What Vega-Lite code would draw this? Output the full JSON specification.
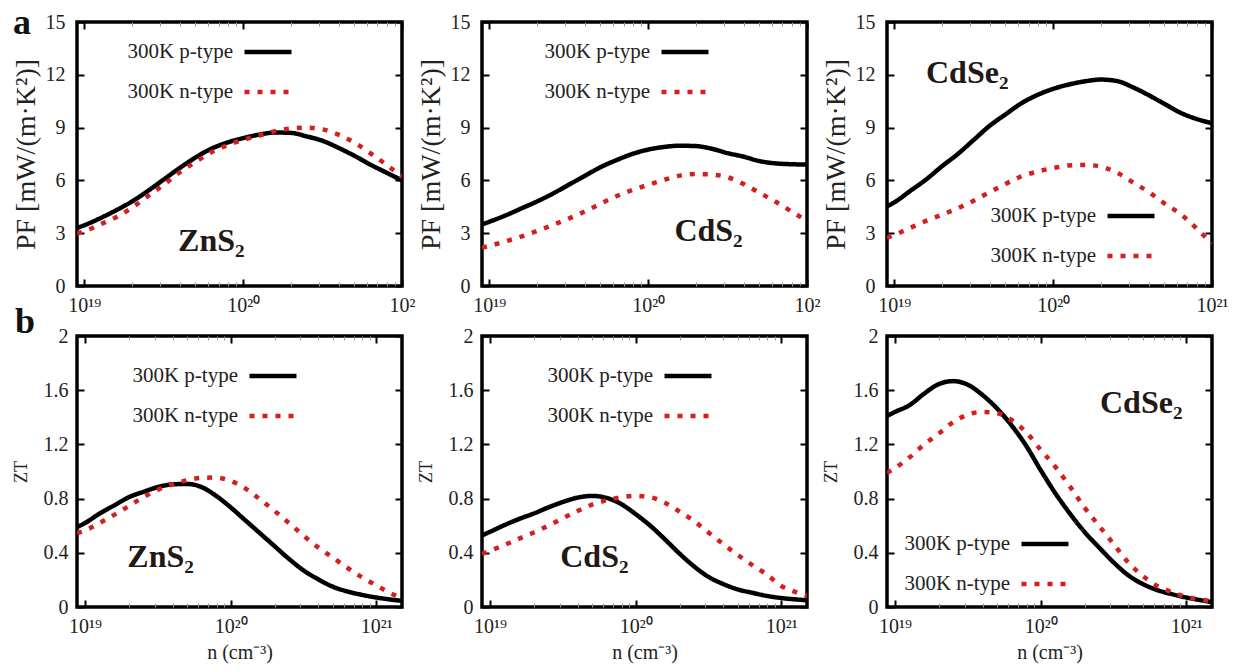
{
  "$schema": "https://vega.github.io/schema/vega-lite/v6.json",
  "background": "white",
  "padding": {"left": 10, "top": 3, "right": 5, "bottom": 2},
  "config": {
    "font": "Liberation Serif",
    "view": {"stroke": "#000", "strokeWidth": 3.5},
    "axis": {"domain": false, "grid": false, "labelFont": "Liberation Serif", "labelFontSize": 20, "labelColor": "#222", "titleFont": "Liberation Serif", "titleColor": "#222", "titleFontWeight": "normal", "tickColor": "#000", "labelFlush": false, "labelOverlap": false},
    "legend": {"orient": "none", "title": null, "labelFont": "Liberation Serif", "labelFontSize": 21, "labelColor": "#222", "symbolType": "stroke", "symbolSize": 2209, "symbolStrokeWidth": 4.5, "labelAlign": "right", "labelOffset": -61, "rowPadding": 4, "padding": 0},
    "title": {"font": "Liberation Serif", "fontSize": 36, "fontWeight": "bold", "color": "#111", "anchor": "start", "frame": "group", "baseline": "alphabetic"}
  },
  "datasets": {
    "curves": [
      {"panel":"A1","type":"300K p-type","n":9e18,"v":3.3},{"panel":"A1","type":"300K p-type","n":1e19,"v":3.45},{"panel":"A1","type":"300K p-type","n":1.259e19,"v":3.85},{"panel":"A1","type":"300K p-type","n":1.585e19,"v":4.3},{"panel":"A1","type":"300K p-type","n":1.995e19,"v":4.8},{"panel":"A1","type":"300K p-type","n":2.512e19,"v":5.4},{"panel":"A1","type":"300K p-type","n":3.162e19,"v":6.05},{"panel":"A1","type":"300K p-type","n":3.981e19,"v":6.7},{"panel":"A1","type":"300K p-type","n":5.012e19,"v":7.3},{"panel":"A1","type":"300K p-type","n":6.31e19,"v":7.8},{"panel":"A1","type":"300K p-type","n":7.943e19,"v":8.15},{"panel":"A1","type":"300K p-type","n":1e20,"v":8.4},{"panel":"A1","type":"300K p-type","n":1.259e20,"v":8.6},{"panel":"A1","type":"300K p-type","n":1.585e20,"v":8.72},{"panel":"A1","type":"300K p-type","n":1.995e20,"v":8.7},{"panel":"A1","type":"300K p-type","n":2.512e20,"v":8.5},{"panel":"A1","type":"300K p-type","n":3.162e20,"v":8.25},{"panel":"A1","type":"300K p-type","n":3.981e20,"v":7.85},{"panel":"A1","type":"300K p-type","n":5.012e20,"v":7.4},{"panel":"A1","type":"300K p-type","n":6.31e20,"v":6.9},{"panel":"A1","type":"300K p-type","n":7.943e20,"v":6.45},{"panel":"A1","type":"300K p-type","n":1e21,"v":6.0},
      {"panel":"A1","type":"300K n-type","n":9e18,"v":3.0},{"panel":"A1","type":"300K n-type","n":1e19,"v":3.1},{"panel":"A1","type":"300K n-type","n":1.259e19,"v":3.5},{"panel":"A1","type":"300K n-type","n":1.585e19,"v":3.9},{"panel":"A1","type":"300K n-type","n":1.995e19,"v":4.45},{"panel":"A1","type":"300K n-type","n":2.512e19,"v":5.1},{"panel":"A1","type":"300K n-type","n":3.162e19,"v":5.75},{"panel":"A1","type":"300K n-type","n":3.981e19,"v":6.45},{"panel":"A1","type":"300K n-type","n":5.012e19,"v":7.05},{"panel":"A1","type":"300K n-type","n":6.31e19,"v":7.6},{"panel":"A1","type":"300K n-type","n":7.943e19,"v":8.0},{"panel":"A1","type":"300K n-type","n":1e20,"v":8.3},{"panel":"A1","type":"300K n-type","n":1.259e20,"v":8.55},{"panel":"A1","type":"300K n-type","n":1.585e20,"v":8.8},{"panel":"A1","type":"300K n-type","n":1.995e20,"v":8.95},{"panel":"A1","type":"300K n-type","n":2.512e20,"v":9.0},{"panel":"A1","type":"300K n-type","n":3.162e20,"v":8.9},{"panel":"A1","type":"300K n-type","n":3.981e20,"v":8.6},{"panel":"A1","type":"300K n-type","n":5.012e20,"v":8.15},{"panel":"A1","type":"300K n-type","n":6.31e20,"v":7.55},{"panel":"A1","type":"300K n-type","n":7.943e20,"v":6.9},{"panel":"A1","type":"300K n-type","n":1e21,"v":6.2},
      {"panel":"A2","type":"300K p-type","n":9e18,"v":3.5},{"panel":"A2","type":"300K p-type","n":1e19,"v":3.65},{"panel":"A2","type":"300K p-type","n":1.259e19,"v":4.0},{"panel":"A2","type":"300K p-type","n":1.585e19,"v":4.4},{"panel":"A2","type":"300K p-type","n":1.995e19,"v":4.8},{"panel":"A2","type":"300K p-type","n":2.512e19,"v":5.25},{"panel":"A2","type":"300K p-type","n":3.162e19,"v":5.75},{"panel":"A2","type":"300K p-type","n":3.981e19,"v":6.25},{"panel":"A2","type":"300K p-type","n":5.012e19,"v":6.75},{"panel":"A2","type":"300K p-type","n":6.31e19,"v":7.15},{"panel":"A2","type":"300K p-type","n":7.943e19,"v":7.5},{"panel":"A2","type":"300K p-type","n":1e20,"v":7.75},{"panel":"A2","type":"300K p-type","n":1.259e20,"v":7.9},{"panel":"A2","type":"300K p-type","n":1.585e20,"v":7.97},{"panel":"A2","type":"300K p-type","n":1.995e20,"v":7.95},{"panel":"A2","type":"300K p-type","n":2.512e20,"v":7.8},{"panel":"A2","type":"300K p-type","n":3.162e20,"v":7.55},{"panel":"A2","type":"300K p-type","n":3.981e20,"v":7.35},{"panel":"A2","type":"300K p-type","n":5.012e20,"v":7.1},{"panel":"A2","type":"300K p-type","n":6.31e20,"v":6.97},{"panel":"A2","type":"300K p-type","n":7.943e20,"v":6.92},{"panel":"A2","type":"300K p-type","n":1e21,"v":6.9},
      {"panel":"A2","type":"300K n-type","n":9e18,"v":2.18},{"panel":"A2","type":"300K n-type","n":1e19,"v":2.28},{"panel":"A2","type":"300K n-type","n":1.259e19,"v":2.53},{"panel":"A2","type":"300K n-type","n":1.585e19,"v":2.8},{"panel":"A2","type":"300K n-type","n":1.995e19,"v":3.12},{"panel":"A2","type":"300K n-type","n":2.512e19,"v":3.47},{"panel":"A2","type":"300K n-type","n":3.162e19,"v":3.83},{"panel":"A2","type":"300K n-type","n":3.981e19,"v":4.23},{"panel":"A2","type":"300K n-type","n":5.012e19,"v":4.67},{"panel":"A2","type":"300K n-type","n":6.31e19,"v":5.1},{"panel":"A2","type":"300K n-type","n":7.943e19,"v":5.45},{"panel":"A2","type":"300K n-type","n":1e20,"v":5.75},{"panel":"A2","type":"300K n-type","n":1.259e20,"v":6.03},{"panel":"A2","type":"300K n-type","n":1.585e20,"v":6.27},{"panel":"A2","type":"300K n-type","n":1.995e20,"v":6.36},{"panel":"A2","type":"300K n-type","n":2.512e20,"v":6.33},{"panel":"A2","type":"300K n-type","n":3.162e20,"v":6.18},{"panel":"A2","type":"300K n-type","n":3.981e20,"v":5.8},{"panel":"A2","type":"300K n-type","n":5.012e20,"v":5.3},{"panel":"A2","type":"300K n-type","n":6.31e20,"v":4.8},{"panel":"A2","type":"300K n-type","n":7.943e20,"v":4.25},{"panel":"A2","type":"300K n-type","n":1e21,"v":3.7},
      {"panel":"A3","type":"300K p-type","n":9e18,"v":4.53},{"panel":"A3","type":"300K p-type","n":1e19,"v":4.75},{"panel":"A3","type":"300K p-type","n":1.259e19,"v":5.4},{"panel":"A3","type":"300K p-type","n":1.585e19,"v":6.05},{"panel":"A3","type":"300K p-type","n":1.995e19,"v":6.8},{"panel":"A3","type":"300K p-type","n":2.512e19,"v":7.5},{"panel":"A3","type":"300K p-type","n":3.162e19,"v":8.3},{"panel":"A3","type":"300K p-type","n":3.981e19,"v":9.1},{"panel":"A3","type":"300K p-type","n":5.012e19,"v":9.75},{"panel":"A3","type":"300K p-type","n":6.31e19,"v":10.38},{"panel":"A3","type":"300K p-type","n":7.943e19,"v":10.85},{"panel":"A3","type":"300K p-type","n":1e20,"v":11.2},{"panel":"A3","type":"300K p-type","n":1.259e20,"v":11.45},{"panel":"A3","type":"300K p-type","n":1.585e20,"v":11.63},{"panel":"A3","type":"300K p-type","n":1.995e20,"v":11.73},{"panel":"A3","type":"300K p-type","n":2.512e20,"v":11.65},{"panel":"A3","type":"300K p-type","n":3.162e20,"v":11.3},{"panel":"A3","type":"300K p-type","n":3.981e20,"v":10.85},{"panel":"A3","type":"300K p-type","n":5.012e20,"v":10.35},{"panel":"A3","type":"300K p-type","n":6.31e20,"v":9.85},{"panel":"A3","type":"300K p-type","n":7.943e20,"v":9.5},{"panel":"A3","type":"300K p-type","n":1e21,"v":9.25},
      {"panel":"A3","type":"300K n-type","n":9e18,"v":2.74},{"panel":"A3","type":"300K n-type","n":1e19,"v":2.9},{"panel":"A3","type":"300K n-type","n":1.259e19,"v":3.3},{"panel":"A3","type":"300K n-type","n":1.585e19,"v":3.7},{"panel":"A3","type":"300K n-type","n":1.995e19,"v":4.05},{"panel":"A3","type":"300K n-type","n":2.512e19,"v":4.42},{"panel":"A3","type":"300K n-type","n":3.162e19,"v":4.85},{"panel":"A3","type":"300K n-type","n":3.981e19,"v":5.33},{"panel":"A3","type":"300K n-type","n":5.012e19,"v":5.8},{"panel":"A3","type":"300K n-type","n":6.31e19,"v":6.23},{"panel":"A3","type":"300K n-type","n":7.943e19,"v":6.5},{"panel":"A3","type":"300K n-type","n":1e20,"v":6.7},{"panel":"A3","type":"300K n-type","n":1.259e20,"v":6.85},{"panel":"A3","type":"300K n-type","n":1.585e20,"v":6.88},{"panel":"A3","type":"300K n-type","n":1.995e20,"v":6.78},{"panel":"A3","type":"300K n-type","n":2.512e20,"v":6.45},{"panel":"A3","type":"300K n-type","n":3.162e20,"v":5.9},{"panel":"A3","type":"300K n-type","n":3.981e20,"v":5.35},{"panel":"A3","type":"300K n-type","n":5.012e20,"v":4.7},{"panel":"A3","type":"300K n-type","n":6.31e20,"v":4.1},{"panel":"A3","type":"300K n-type","n":7.943e20,"v":3.3},{"panel":"A3","type":"300K n-type","n":1e21,"v":2.4},
      {"panel":"B1","type":"300K p-type","n":8.8e18,"v":0.59},{"panel":"B1","type":"300K p-type","n":1e19,"v":0.62},{"panel":"B1","type":"300K p-type","n":1.259e19,"v":0.69},{"panel":"B1","type":"300K p-type","n":1.585e19,"v":0.75},{"panel":"B1","type":"300K p-type","n":1.995e19,"v":0.81},{"panel":"B1","type":"300K p-type","n":2.512e19,"v":0.85},{"panel":"B1","type":"300K p-type","n":3.162e19,"v":0.885},{"panel":"B1","type":"300K p-type","n":3.981e19,"v":0.905},{"panel":"B1","type":"300K p-type","n":5.012e19,"v":0.908},{"panel":"B1","type":"300K p-type","n":6.31e19,"v":0.885},{"panel":"B1","type":"300K p-type","n":7.943e19,"v":0.82},{"panel":"B1","type":"300K p-type","n":1e20,"v":0.735},{"panel":"B1","type":"300K p-type","n":1.259e20,"v":0.64},{"panel":"B1","type":"300K p-type","n":1.585e20,"v":0.545},{"panel":"B1","type":"300K p-type","n":1.995e20,"v":0.45},{"panel":"B1","type":"300K p-type","n":2.512e20,"v":0.355},{"panel":"B1","type":"300K p-type","n":3.162e20,"v":0.27},{"panel":"B1","type":"300K p-type","n":3.981e20,"v":0.205},{"panel":"B1","type":"300K p-type","n":5.012e20,"v":0.15},{"panel":"B1","type":"300K p-type","n":6.31e20,"v":0.115},{"panel":"B1","type":"300K p-type","n":7.943e20,"v":0.09},{"panel":"B1","type":"300K p-type","n":1e21,"v":0.07},{"panel":"B1","type":"300K p-type","n":1.259e21,"v":0.055},{"panel":"B1","type":"300K p-type","n":1.5e21,"v":0.045},
      {"panel":"B1","type":"300K n-type","n":8.8e18,"v":0.545},{"panel":"B1","type":"300K n-type","n":1e19,"v":0.565},{"panel":"B1","type":"300K n-type","n":1.259e19,"v":0.62},{"panel":"B1","type":"300K n-type","n":1.585e19,"v":0.68},{"panel":"B1","type":"300K n-type","n":1.995e19,"v":0.745},{"panel":"B1","type":"300K n-type","n":2.512e19,"v":0.81},{"panel":"B1","type":"300K n-type","n":3.162e19,"v":0.865},{"panel":"B1","type":"300K n-type","n":3.981e19,"v":0.905},{"panel":"B1","type":"300K n-type","n":5.012e19,"v":0.935},{"panel":"B1","type":"300K n-type","n":6.31e19,"v":0.953},{"panel":"B1","type":"300K n-type","n":7.943e19,"v":0.955},{"panel":"B1","type":"300K n-type","n":1e20,"v":0.93},{"panel":"B1","type":"300K n-type","n":1.259e20,"v":0.875},{"panel":"B1","type":"300K n-type","n":1.585e20,"v":0.795},{"panel":"B1","type":"300K n-type","n":1.995e20,"v":0.71},{"panel":"B1","type":"300K n-type","n":2.512e20,"v":0.62},{"panel":"B1","type":"300K n-type","n":3.162e20,"v":0.527},{"panel":"B1","type":"300K n-type","n":3.981e20,"v":0.44},{"panel":"B1","type":"300K n-type","n":5.012e20,"v":0.365},{"panel":"B1","type":"300K n-type","n":6.31e20,"v":0.29},{"panel":"B1","type":"300K n-type","n":7.943e20,"v":0.22},{"panel":"B1","type":"300K n-type","n":1e21,"v":0.16},{"panel":"B1","type":"300K n-type","n":1.259e21,"v":0.1},{"panel":"B1","type":"300K n-type","n":1.5e21,"v":0.065},
      {"panel":"B2","type":"300K p-type","n":8.8e18,"v":0.528},{"panel":"B2","type":"300K p-type","n":1e19,"v":0.555},{"panel":"B2","type":"300K p-type","n":1.259e19,"v":0.605},{"panel":"B2","type":"300K p-type","n":1.585e19,"v":0.65},{"panel":"B2","type":"300K p-type","n":1.995e19,"v":0.69},{"panel":"B2","type":"300K p-type","n":2.512e19,"v":0.735},{"panel":"B2","type":"300K p-type","n":3.162e19,"v":0.775},{"panel":"B2","type":"300K p-type","n":3.981e19,"v":0.807},{"panel":"B2","type":"300K p-type","n":5.012e19,"v":0.82},{"panel":"B2","type":"300K p-type","n":6.31e19,"v":0.805},{"panel":"B2","type":"300K p-type","n":7.943e19,"v":0.76},{"panel":"B2","type":"300K p-type","n":1e20,"v":0.685},{"panel":"B2","type":"300K p-type","n":1.259e20,"v":0.6},{"panel":"B2","type":"300K p-type","n":1.585e20,"v":0.5},{"panel":"B2","type":"300K p-type","n":1.995e20,"v":0.395},{"panel":"B2","type":"300K p-type","n":2.512e20,"v":0.3},{"panel":"B2","type":"300K p-type","n":3.162e20,"v":0.222},{"panel":"B2","type":"300K p-type","n":3.981e20,"v":0.17},{"panel":"B2","type":"300K p-type","n":5.012e20,"v":0.13},{"panel":"B2","type":"300K p-type","n":6.31e20,"v":0.105},{"panel":"B2","type":"300K p-type","n":7.943e20,"v":0.082},{"panel":"B2","type":"300K p-type","n":1e21,"v":0.066},{"panel":"B2","type":"300K p-type","n":1.259e21,"v":0.056},{"panel":"B2","type":"300K p-type","n":1.5e21,"v":0.049},
      {"panel":"B2","type":"300K n-type","n":8.8e18,"v":0.392},{"panel":"B2","type":"300K n-type","n":1e19,"v":0.415},{"panel":"B2","type":"300K n-type","n":1.259e19,"v":0.458},{"panel":"B2","type":"300K n-type","n":1.585e19,"v":0.505},{"panel":"B2","type":"300K n-type","n":1.995e19,"v":0.55},{"panel":"B2","type":"300K n-type","n":2.512e19,"v":0.6},{"panel":"B2","type":"300K n-type","n":3.162e19,"v":0.655},{"panel":"B2","type":"300K n-type","n":3.981e19,"v":0.708},{"panel":"B2","type":"300K n-type","n":5.012e19,"v":0.755},{"panel":"B2","type":"300K n-type","n":6.31e19,"v":0.788},{"panel":"B2","type":"300K n-type","n":7.943e19,"v":0.81},{"panel":"B2","type":"300K n-type","n":1e20,"v":0.82},{"panel":"B2","type":"300K n-type","n":1.259e20,"v":0.81},{"panel":"B2","type":"300K n-type","n":1.585e20,"v":0.77},{"panel":"B2","type":"300K n-type","n":1.995e20,"v":0.705},{"panel":"B2","type":"300K n-type","n":2.512e20,"v":0.635},{"panel":"B2","type":"300K n-type","n":3.162e20,"v":0.55},{"panel":"B2","type":"300K n-type","n":3.981e20,"v":0.465},{"panel":"B2","type":"300K n-type","n":5.012e20,"v":0.385},{"panel":"B2","type":"300K n-type","n":6.31e20,"v":0.31},{"panel":"B2","type":"300K n-type","n":7.943e20,"v":0.24},{"panel":"B2","type":"300K n-type","n":1e21,"v":0.155},{"panel":"B2","type":"300K n-type","n":1.259e21,"v":0.11},{"panel":"B2","type":"300K n-type","n":1.5e21,"v":0.081},
      {"panel":"B3","type":"300K p-type","n":8.8e18,"v":1.41},{"panel":"B3","type":"300K p-type","n":1e19,"v":1.44},{"panel":"B3","type":"300K p-type","n":1.259e19,"v":1.49},{"panel":"B3","type":"300K p-type","n":1.585e19,"v":1.575},{"panel":"B3","type":"300K p-type","n":1.995e19,"v":1.645},{"panel":"B3","type":"300K p-type","n":2.512e19,"v":1.667},{"panel":"B3","type":"300K p-type","n":3.162e19,"v":1.64},{"panel":"B3","type":"300K p-type","n":3.981e19,"v":1.565},{"panel":"B3","type":"300K p-type","n":5.012e19,"v":1.465},{"panel":"B3","type":"300K p-type","n":6.31e19,"v":1.34},{"panel":"B3","type":"300K p-type","n":7.943e19,"v":1.19},{"panel":"B3","type":"300K p-type","n":1e20,"v":1.01},{"panel":"B3","type":"300K p-type","n":1.259e20,"v":0.84},{"panel":"B3","type":"300K p-type","n":1.585e20,"v":0.69},{"panel":"B3","type":"300K p-type","n":1.995e20,"v":0.555},{"panel":"B3","type":"300K p-type","n":2.512e20,"v":0.44},{"panel":"B3","type":"300K p-type","n":3.162e20,"v":0.33},{"panel":"B3","type":"300K p-type","n":3.981e20,"v":0.235},{"panel":"B3","type":"300K p-type","n":5.012e20,"v":0.17},{"panel":"B3","type":"300K p-type","n":6.31e20,"v":0.125},{"panel":"B3","type":"300K p-type","n":7.943e20,"v":0.095},{"panel":"B3","type":"300K p-type","n":1e21,"v":0.07},{"panel":"B3","type":"300K p-type","n":1.259e21,"v":0.05},{"panel":"B3","type":"300K p-type","n":1.5e21,"v":0.036},
      {"panel":"B3","type":"300K n-type","n":8.8e18,"v":0.99},{"panel":"B3","type":"300K n-type","n":1e19,"v":1.025},{"panel":"B3","type":"300K n-type","n":1.259e19,"v":1.105},{"panel":"B3","type":"300K n-type","n":1.585e19,"v":1.2},{"panel":"B3","type":"300K n-type","n":1.995e19,"v":1.28},{"panel":"B3","type":"300K n-type","n":2.512e19,"v":1.365},{"panel":"B3","type":"300K n-type","n":3.162e19,"v":1.42},{"panel":"B3","type":"300K n-type","n":3.981e19,"v":1.44},{"panel":"B3","type":"300K n-type","n":5.012e19,"v":1.43},{"panel":"B3","type":"300K n-type","n":6.31e19,"v":1.38},{"panel":"B3","type":"300K n-type","n":7.943e19,"v":1.29},{"panel":"B3","type":"300K n-type","n":1e20,"v":1.16},{"panel":"B3","type":"300K n-type","n":1.259e20,"v":1.035},{"panel":"B3","type":"300K n-type","n":1.585e20,"v":0.89},{"panel":"B3","type":"300K n-type","n":1.995e20,"v":0.735},{"panel":"B3","type":"300K n-type","n":2.512e20,"v":0.6},{"panel":"B3","type":"300K n-type","n":3.162e20,"v":0.465},{"panel":"B3","type":"300K n-type","n":3.981e20,"v":0.33},{"panel":"B3","type":"300K n-type","n":5.012e20,"v":0.23},{"panel":"B3","type":"300K n-type","n":6.31e20,"v":0.155},{"panel":"B3","type":"300K n-type","n":7.943e20,"v":0.11},{"panel":"B3","type":"300K n-type","n":1e21,"v":0.075},{"panel":"B3","type":"300K n-type","n":1.259e21,"v":0.055},{"panel":"B3","type":"300K n-type","n":1.5e21,"v":0.042}
    ]
  },
  "columns": 3,
  "spacing": {"row": 50, "column": 80},
  "bounds": "flush",
  "resolve": {"scale": {"color": "independent", "strokeDash": "independent"}, "legend": {"color": "independent", "strokeDash": "independent"}},
  "concat": [
    {
      "width": 325, "height": 264,
      "title": {"text": "a", "dx": -64, "offset": -30},
      "layer": [
        {
          "data": {"name": "curves"},
          "transform": [{"filter": "datum.panel == 'A1'"}],
          "mark": {"type": "line", "clip": true, "strokeWidth": 4.5, "strokeCap": "butt", "interpolate": "monotone"},
          "encoding": {
            "x": {"field": "n", "type": "quantitative", "scale": {"type": "log", "domain": [9e18, 1e21], "nice": false},
              "axis": {"orient": "bottom", "title": null, "values": [1e19,2e19,3e19,4e19,5e19,6e19,7e19,8e19,9e19,1e20,2e20,3e20,4e20,5e20,6e20,7e20,8e20,9e20,1e21],
                "tickSize": {"condition": {"test": "datum.value == 1e19 || datum.value == 1e20 || datum.value == 1e21", "value": -7}, "value": -4},
                "tickWidth": {"condition": {"test": "datum.value == 1e19 || datum.value == 1e20 || datum.value == 1e21", "value": 2}, "value": 1},
                "tickColor": {"condition": {"test": "datum.value == 1e19 || datum.value == 1e20 || datum.value == 1e21", "value": "#000"}, "value": "#999"},
                "labelPadding": {"condition": {"test": "datum.value == 1e19 || datum.value == 1e20 || datum.value == 1e21", "value": 16}, "value": 0},
                "labelExpr": "datum.value == 1e19 ? '10¹⁹' : datum.value == 1e20 ? '10²⁰' : datum.value == 1e21 ? '10²' : ''"}},
            "y": {"field": "v", "type": "quantitative", "scale": {"domain": [0, 15], "nice": false, "zero": false},
              "axis": {"orient": "left", "title": "PF [mW/(m·K²)]", "titleFontSize": 28, "titlePadding": 5, "values": [0,3,6,9,12,15], "format": "d", "tickSize": -7, "tickWidth": 2, "labelPadding": 19}},
            "color": {"field": "type", "type": "nominal", "scale": {"domain": ["300K p-type", "300K n-type"], "range": ["#000000", "#d41f1f"]}, "legend": {"legendX": 165, "legendY": 4}},
            "strokeDash": {"field": "type", "type": "nominal", "scale": {"domain": ["300K p-type", "300K n-type"], "range": [[1, 0], [5, 8]]}, "legend": {"legendX": 165, "legendY": 4}}
          }
        },
        {
          "data": {"values": [{"n": 6.31e19, "v": 2.57, "label": "ZnS₂"}]},
          "mark": {"type": "text", "font": "Liberation Serif", "fontWeight": "bold", "fontSize": 32, "color": "#231815"},
          "encoding": {
            "x": {"field": "n", "type": "quantitative", "axis": {"orient": "top", "title": null, "labels": false, "values": [1e19,2e19,3e19,4e19,5e19,6e19,7e19,8e19,9e19,1e20,2e20,3e20,4e20,5e20,6e20,7e20,8e20,9e20,1e21],
                "tickSize": {"condition": {"test": "datum.value == 1e19 || datum.value == 1e20 || datum.value == 1e21", "value": -7}, "value": -4},
                "tickWidth": {"condition": {"test": "datum.value == 1e19 || datum.value == 1e20 || datum.value == 1e21", "value": 2}, "value": 1},
                "tickColor": {"condition": {"test": "datum.value == 1e19 || datum.value == 1e20 || datum.value == 1e21", "value": "#000"}, "value": "#999"}}},
            "y": {"field": "v", "type": "quantitative", "axis": {"orient": "right", "title": null, "labels": false, "values": [0,3,6,9,12,15], "tickSize": -7, "tickWidth": 2}},
            "text": {"field": "label"}
          }
        }
      ],
      "resolve": {"axis": {"x": "independent", "y": "independent"}}
    },
    {
      "width": 325, "height": 264,
      "layer": [
        {
          "data": {"name": "curves"},
          "transform": [{"filter": "datum.panel == 'A2'"}],
          "mark": {"type": "line", "clip": true, "strokeWidth": 4.5, "strokeCap": "butt", "interpolate": "monotone"},
          "encoding": {
            "x": {"field": "n", "type": "quantitative", "scale": {"type": "log", "domain": [9e18, 1e21], "nice": false},
              "axis": {"orient": "bottom", "title": null, "values": [1e19,2e19,3e19,4e19,5e19,6e19,7e19,8e19,9e19,1e20,2e20,3e20,4e20,5e20,6e20,7e20,8e20,9e20,1e21],
                "tickSize": {"condition": {"test": "datum.value == 1e19 || datum.value == 1e20 || datum.value == 1e21", "value": -7}, "value": -4},
                "tickWidth": {"condition": {"test": "datum.value == 1e19 || datum.value == 1e20 || datum.value == 1e21", "value": 2}, "value": 1},
                "tickColor": {"condition": {"test": "datum.value == 1e19 || datum.value == 1e20 || datum.value == 1e21", "value": "#000"}, "value": "#999"},
                "labelPadding": {"condition": {"test": "datum.value == 1e19 || datum.value == 1e20 || datum.value == 1e21", "value": 16}, "value": 0},
                "labelExpr": "datum.value == 1e19 ? '10¹⁹' : datum.value == 1e20 ? '10²⁰' : datum.value == 1e21 ? '10²' : ''"}},
            "y": {"field": "v", "type": "quantitative", "scale": {"domain": [0, 15], "nice": false, "zero": false},
              "axis": {"orient": "left", "title": "PF [mW/(m·K²)]", "titleFontSize": 28, "titlePadding": 5, "values": [0,3,6,9,12,15], "format": "d", "tickSize": -7, "tickWidth": 2, "labelPadding": 19}},
            "color": {"field": "type", "type": "nominal", "scale": {"domain": ["300K p-type", "300K n-type"], "range": ["#000000", "#d41f1f"]}, "legend": {"legendX": 177, "legendY": 4}},
            "strokeDash": {"field": "type", "type": "nominal", "scale": {"domain": ["300K p-type", "300K n-type"], "range": [[1, 0], [5, 8]]}, "legend": {"legendX": 177, "legendY": 4}}
          }
        },
        {
          "data": {"values": [{"n": 2.4e20, "v": 3.14, "label": "CdS₂"}]},
          "mark": {"type": "text", "font": "Liberation Serif", "fontWeight": "bold", "fontSize": 32, "color": "#231815"},
          "encoding": {
            "x": {"field": "n", "type": "quantitative", "axis": {"orient": "top", "title": null, "labels": false, "values": [1e19,2e19,3e19,4e19,5e19,6e19,7e19,8e19,9e19,1e20,2e20,3e20,4e20,5e20,6e20,7e20,8e20,9e20,1e21],
                "tickSize": {"condition": {"test": "datum.value == 1e19 || datum.value == 1e20 || datum.value == 1e21", "value": -7}, "value": -4},
                "tickWidth": {"condition": {"test": "datum.value == 1e19 || datum.value == 1e20 || datum.value == 1e21", "value": 2}, "value": 1},
                "tickColor": {"condition": {"test": "datum.value == 1e19 || datum.value == 1e20 || datum.value == 1e21", "value": "#000"}, "value": "#999"}}},
            "y": {"field": "v", "type": "quantitative", "axis": {"orient": "right", "title": null, "labels": false, "values": [0,3,6,9,12,15], "tickSize": -7, "tickWidth": 2}},
            "text": {"field": "label"}
          }
        }
      ],
      "resolve": {"axis": {"x": "independent", "y": "independent"}}
    },
    {
      "width": 325, "height": 264,
      "layer": [
        {
          "data": {"name": "curves"},
          "transform": [{"filter": "datum.panel == 'A3'"}],
          "mark": {"type": "line", "clip": true, "strokeWidth": 4.5, "strokeCap": "butt", "interpolate": "monotone"},
          "encoding": {
            "x": {"field": "n", "type": "quantitative", "scale": {"type": "log", "domain": [9e18, 1e21], "nice": false},
              "axis": {"orient": "bottom", "title": null, "values": [1e19,2e19,3e19,4e19,5e19,6e19,7e19,8e19,9e19,1e20,2e20,3e20,4e20,5e20,6e20,7e20,8e20,9e20,1e21],
                "tickSize": {"condition": {"test": "datum.value == 1e19 || datum.value == 1e20 || datum.value == 1e21", "value": -7}, "value": -4},
                "tickWidth": {"condition": {"test": "datum.value == 1e19 || datum.value == 1e20 || datum.value == 1e21", "value": 2}, "value": 1},
                "tickColor": {"condition": {"test": "datum.value == 1e19 || datum.value == 1e20 || datum.value == 1e21", "value": "#000"}, "value": "#999"},
                "labelPadding": {"condition": {"test": "datum.value == 1e19 || datum.value == 1e20 || datum.value == 1e21", "value": 16}, "value": 0},
                "labelExpr": "datum.value == 1e19 ? '10¹⁹' : datum.value == 1e20 ? '10²⁰' : datum.value == 1e21 ? '10²¹' : ''"}},
            "y": {"field": "v", "type": "quantitative", "scale": {"domain": [0, 15], "nice": false, "zero": false},
              "axis": {"orient": "left", "title": "PF [mW/(m·K²)]", "titleFontSize": 28, "titlePadding": 5, "values": [0,3,6,9,12,15], "format": "d", "tickSize": -7, "tickWidth": 2, "labelPadding": 19}},
            "color": {"field": "type", "type": "nominal", "scale": {"domain": ["300K p-type", "300K n-type"], "range": ["#000000", "#d41f1f"]}, "legend": {"legendX": 218, "legendY": 168}},
            "strokeDash": {"field": "type", "type": "nominal", "scale": {"domain": ["300K p-type", "300K n-type"], "range": [[1, 0], [5, 8]]}, "legend": {"legendX": 218, "legendY": 168}}
          }
        },
        {
          "data": {"values": [{"n": 2.88e19, "v": 12.1, "label": "CdSe₂"}]},
          "mark": {"type": "text", "font": "Liberation Serif", "fontWeight": "bold", "fontSize": 32, "color": "#231815"},
          "encoding": {
            "x": {"field": "n", "type": "quantitative", "axis": {"orient": "top", "title": null, "labels": false, "values": [1e19,2e19,3e19,4e19,5e19,6e19,7e19,8e19,9e19,1e20,2e20,3e20,4e20,5e20,6e20,7e20,8e20,9e20,1e21],
                "tickSize": {"condition": {"test": "datum.value == 1e19 || datum.value == 1e20 || datum.value == 1e21", "value": -7}, "value": -4},
                "tickWidth": {"condition": {"test": "datum.value == 1e19 || datum.value == 1e20 || datum.value == 1e21", "value": 2}, "value": 1},
                "tickColor": {"condition": {"test": "datum.value == 1e19 || datum.value == 1e20 || datum.value == 1e21", "value": "#000"}, "value": "#999"}}},
            "y": {"field": "v", "type": "quantitative", "axis": {"orient": "right", "title": null, "labels": false, "values": [0,3,6,9,12,15], "tickSize": -7, "tickWidth": 2}},
            "text": {"field": "label"}
          }
        }
      ],
      "resolve": {"axis": {"x": "independent", "y": "independent"}}
    },
    {
      "width": 325, "height": 271,
      "title": {"text": "b", "dx": -62, "offset": -15},
      "layer": [
        {
          "data": {"name": "curves"},
          "transform": [{"filter": "datum.panel == 'B1'"}],
          "mark": {"type": "line", "clip": true, "strokeWidth": 4.5, "strokeCap": "butt", "interpolate": "monotone"},
          "encoding": {
            "x": {"field": "n", "type": "quantitative", "scale": {"type": "log", "domain": [8.8e18, 1.5e21], "nice": false},
              "axis": {"orient": "bottom", "title": "n (cm⁻³)", "titleFontSize": 20, "titlePadding": 6, "values": [1e19,2e19,3e19,4e19,5e19,6e19,7e19,8e19,9e19,1e20,2e20,3e20,4e20,5e20,6e20,7e20,8e20,9e20,1e21],
                "tickSize": {"condition": {"test": "datum.value == 1e19 || datum.value == 1e20 || datum.value == 1e21", "value": -7}, "value": -4},
                "tickWidth": {"condition": {"test": "datum.value == 1e19 || datum.value == 1e20 || datum.value == 1e21", "value": 2}, "value": 1},
                "tickColor": {"condition": {"test": "datum.value == 1e19 || datum.value == 1e20 || datum.value == 1e21", "value": "#000"}, "value": "#999"},
                "labelPadding": {"condition": {"test": "datum.value == 1e19 || datum.value == 1e20 || datum.value == 1e21", "value": 16}, "value": 0},
                "labelExpr": "datum.value == 1e19 ? '10¹⁹' : datum.value == 1e20 ? '10²⁰' : datum.value == 1e21 ? '10²¹' : ''"}},
            "y": {"field": "v", "type": "quantitative", "scale": {"domain": [0, 2], "nice": false, "zero": false},
              "axis": {"orient": "left", "title": "ZT", "titleFontSize": 18, "titlePadding": 13, "values": [0,0.4,0.8,1.2,1.6,2], "format": "~g", "tickSize": -7, "tickWidth": 2, "labelPadding": 16}},
            "color": {"field": "type", "type": "nominal", "scale": {"domain": ["300K p-type", "300K n-type"], "range": ["#000000", "#d41f1f"]}, "legend": {"legendX": 170, "legendY": 14}},
            "strokeDash": {"field": "type", "type": "nominal", "scale": {"domain": ["300K p-type", "300K n-type"], "range": [[1, 0], [5, 8]]}, "legend": {"legendX": 170, "legendY": 14}}
          }
        },
        {
          "data": {"values": [{"n": 3.3e19, "v": 0.37, "label": "ZnS₂"}]},
          "mark": {"type": "text", "font": "Liberation Serif", "fontWeight": "bold", "fontSize": 32, "color": "#231815"},
          "encoding": {
            "x": {"field": "n", "type": "quantitative", "axis": {"orient": "top", "title": null, "labels": false, "values": [1e19,2e19,3e19,4e19,5e19,6e19,7e19,8e19,9e19,1e20,2e20,3e20,4e20,5e20,6e20,7e20,8e20,9e20,1e21],
                "tickSize": {"condition": {"test": "datum.value == 1e19 || datum.value == 1e20 || datum.value == 1e21", "value": -7}, "value": -4},
                "tickWidth": {"condition": {"test": "datum.value == 1e19 || datum.value == 1e20 || datum.value == 1e21", "value": 2}, "value": 1},
                "tickColor": {"condition": {"test": "datum.value == 1e19 || datum.value == 1e20 || datum.value == 1e21", "value": "#000"}, "value": "#999"}}},
            "y": {"field": "v", "type": "quantitative", "axis": {"orient": "right", "title": null, "labels": false, "values": [0,0.4,0.8,1.2,1.6,2], "tickSize": -7, "tickWidth": 2}},
            "text": {"field": "label"}
          }
        }
      ],
      "resolve": {"axis": {"x": "independent", "y": "independent"}}
    },
    {
      "width": 325, "height": 271,
      "layer": [
        {
          "data": {"name": "curves"},
          "transform": [{"filter": "datum.panel == 'B2'"}],
          "mark": {"type": "line", "clip": true, "strokeWidth": 4.5, "strokeCap": "butt", "interpolate": "monotone"},
          "encoding": {
            "x": {"field": "n", "type": "quantitative", "scale": {"type": "log", "domain": [8.8e18, 1.5e21], "nice": false},
              "axis": {"orient": "bottom", "title": "n (cm⁻³)", "titleFontSize": 20, "titlePadding": 6, "values": [1e19,2e19,3e19,4e19,5e19,6e19,7e19,8e19,9e19,1e20,2e20,3e20,4e20,5e20,6e20,7e20,8e20,9e20,1e21],
                "tickSize": {"condition": {"test": "datum.value == 1e19 || datum.value == 1e20 || datum.value == 1e21", "value": -7}, "value": -4},
                "tickWidth": {"condition": {"test": "datum.value == 1e19 || datum.value == 1e20 || datum.value == 1e21", "value": 2}, "value": 1},
                "tickColor": {"condition": {"test": "datum.value == 1e19 || datum.value == 1e20 || datum.value == 1e21", "value": "#000"}, "value": "#999"},
                "labelPadding": {"condition": {"test": "datum.value == 1e19 || datum.value == 1e20 || datum.value == 1e21", "value": 16}, "value": 0},
                "labelExpr": "datum.value == 1e19 ? '10¹⁹' : datum.value == 1e20 ? '10²⁰' : datum.value == 1e21 ? '10²¹' : ''"}},
            "y": {"field": "v", "type": "quantitative", "scale": {"domain": [0, 2], "nice": false, "zero": false},
              "axis": {"orient": "left", "title": "ZT", "titleFontSize": 18, "titlePadding": 13, "values": [0,0.4,0.8,1.2,1.6,2], "format": "~g", "tickSize": -7, "tickWidth": 2, "labelPadding": 16}},
            "color": {"field": "type", "type": "nominal", "scale": {"domain": ["300K p-type", "300K n-type"], "range": ["#000000", "#d41f1f"]}, "legend": {"legendX": 180, "legendY": 14}},
            "strokeDash": {"field": "type", "type": "nominal", "scale": {"domain": ["300K p-type", "300K n-type"], "range": [[1, 0], [5, 8]]}, "legend": {"legendX": 180, "legendY": 14}}
          }
        },
        {
          "data": {"values": [{"n": 5.2e19, "v": 0.37, "label": "CdS₂"}]},
          "mark": {"type": "text", "font": "Liberation Serif", "fontWeight": "bold", "fontSize": 32, "color": "#231815"},
          "encoding": {
            "x": {"field": "n", "type": "quantitative", "axis": {"orient": "top", "title": null, "labels": false, "values": [1e19,2e19,3e19,4e19,5e19,6e19,7e19,8e19,9e19,1e20,2e20,3e20,4e20,5e20,6e20,7e20,8e20,9e20,1e21],
                "tickSize": {"condition": {"test": "datum.value == 1e19 || datum.value == 1e20 || datum.value == 1e21", "value": -7}, "value": -4},
                "tickWidth": {"condition": {"test": "datum.value == 1e19 || datum.value == 1e20 || datum.value == 1e21", "value": 2}, "value": 1},
                "tickColor": {"condition": {"test": "datum.value == 1e19 || datum.value == 1e20 || datum.value == 1e21", "value": "#000"}, "value": "#999"}}},
            "y": {"field": "v", "type": "quantitative", "axis": {"orient": "right", "title": null, "labels": false, "values": [0,0.4,0.8,1.2,1.6,2], "tickSize": -7, "tickWidth": 2}},
            "text": {"field": "label"}
          }
        }
      ],
      "resolve": {"axis": {"x": "independent", "y": "independent"}}
    },
    {
      "width": 325, "height": 271,
      "layer": [
        {
          "data": {"name": "curves"},
          "transform": [{"filter": "datum.panel == 'B3'"}],
          "mark": {"type": "line", "clip": true, "strokeWidth": 4.5, "strokeCap": "butt", "interpolate": "monotone"},
          "encoding": {
            "x": {"field": "n", "type": "quantitative", "scale": {"type": "log", "domain": [8.8e18, 1.5e21], "nice": false},
              "axis": {"orient": "bottom", "title": "n (cm⁻³)", "titleFontSize": 20, "titlePadding": 6, "values": [1e19,2e19,3e19,4e19,5e19,6e19,7e19,8e19,9e19,1e20,2e20,3e20,4e20,5e20,6e20,7e20,8e20,9e20,1e21],
                "tickSize": {"condition": {"test": "datum.value == 1e19 || datum.value == 1e20 || datum.value == 1e21", "value": -7}, "value": -4},
                "tickWidth": {"condition": {"test": "datum.value == 1e19 || datum.value == 1e20 || datum.value == 1e21", "value": 2}, "value": 1},
                "tickColor": {"condition": {"test": "datum.value == 1e19 || datum.value == 1e20 || datum.value == 1e21", "value": "#000"}, "value": "#999"},
                "labelPadding": {"condition": {"test": "datum.value == 1e19 || datum.value == 1e20 || datum.value == 1e21", "value": 16}, "value": 0},
                "labelExpr": "datum.value == 1e19 ? '10¹⁹' : datum.value == 1e20 ? '10²⁰' : datum.value == 1e21 ? '10²¹' : ''"}},
            "y": {"field": "v", "type": "quantitative", "scale": {"domain": [0, 2], "nice": false, "zero": false},
              "axis": {"orient": "left", "title": "ZT", "titleFontSize": 18, "titlePadding": 13, "values": [0,0.4,0.8,1.2,1.6,2], "format": "~g", "tickSize": -7, "tickWidth": 2, "labelPadding": 16}},
            "color": {"field": "type", "type": "nominal", "scale": {"domain": ["300K p-type", "300K n-type"], "range": ["#000000", "#d41f1f"]}, "legend": {"legendX": 132, "legendY": 182}},
            "strokeDash": {"field": "type", "type": "nominal", "scale": {"domain": ["300K p-type", "300K n-type"], "range": [[1, 0], [5, 8]]}, "legend": {"legendX": 132, "legendY": 182}}
          }
        },
        {
          "data": {"values": [{"n": 4.9e20, "v": 1.507, "label": "CdSe₂"}]},
          "mark": {"type": "text", "font": "Liberation Serif", "fontWeight": "bold", "fontSize": 32, "color": "#231815"},
          "encoding": {
            "x": {"field": "n", "type": "quantitative", "axis": {"orient": "top", "title": null, "labels": false, "values": [1e19,2e19,3e19,4e19,5e19,6e19,7e19,8e19,9e19,1e20,2e20,3e20,4e20,5e20,6e20,7e20,8e20,9e20,1e21],
                "tickSize": {"condition": {"test": "datum.value == 1e19 || datum.value == 1e20 || datum.value == 1e21", "value": -7}, "value": -4},
                "tickWidth": {"condition": {"test": "datum.value == 1e19 || datum.value == 1e20 || datum.value == 1e21", "value": 2}, "value": 1},
                "tickColor": {"condition": {"test": "datum.value == 1e19 || datum.value == 1e20 || datum.value == 1e21", "value": "#000"}, "value": "#999"}}},
            "y": {"field": "v", "type": "quantitative", "axis": {"orient": "right", "title": null, "labels": false, "values": [0,0.4,0.8,1.2,1.6,2], "tickSize": -7, "tickWidth": 2}},
            "text": {"field": "label"}
          }
        }
      ],
      "resolve": {"axis": {"x": "independent", "y": "independent"}}
    }
  ]
}
